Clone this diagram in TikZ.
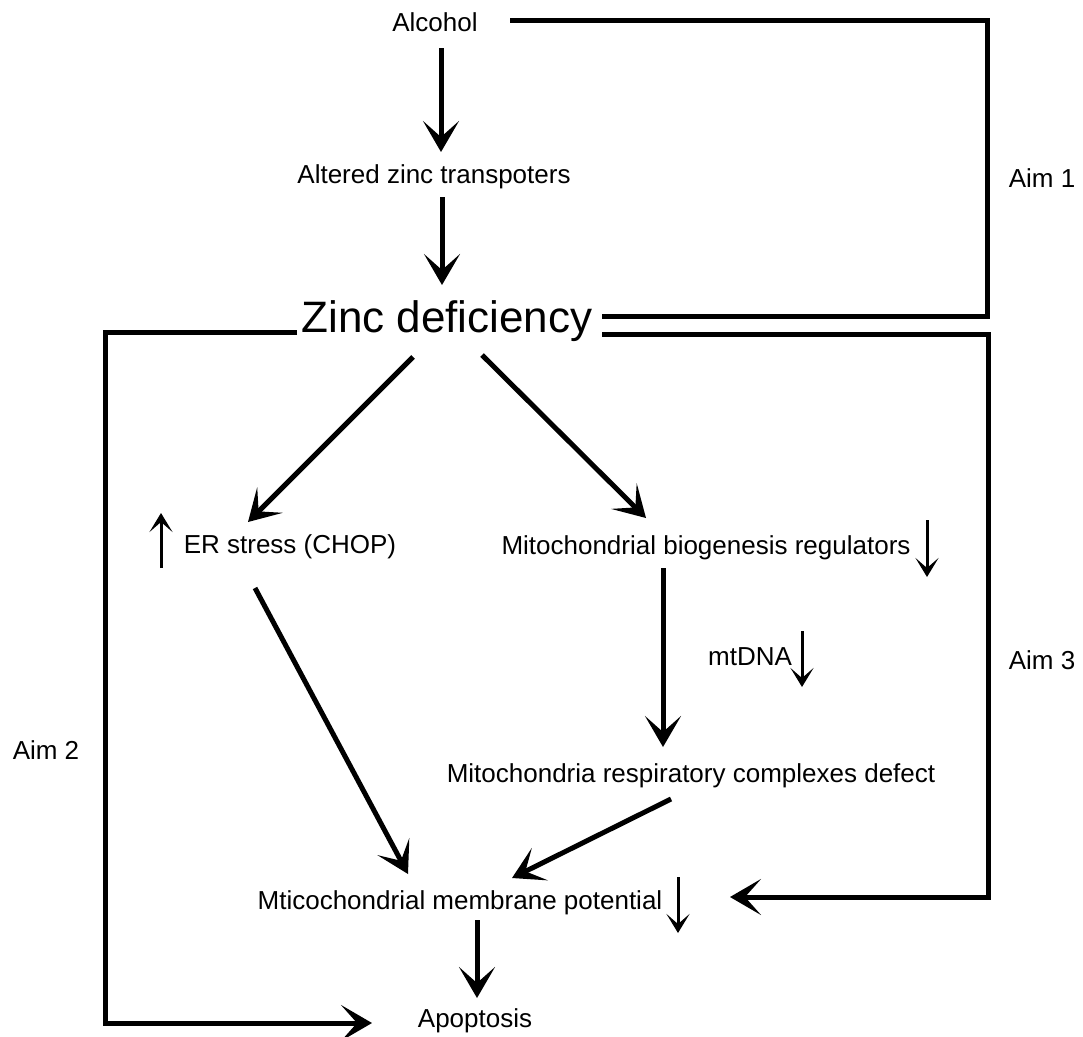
\documentclass[tikz,border=0pt]{standalone}
\usepackage{fontspec}
\setmainfont{Liberation Sans}
\usetikzlibrary{arrows.meta}

\begin{document}
\begin{tikzpicture}[x=1pt,y=-1pt,line width=5pt,
    >={Stealth[length=31pt,width=36pt,inset=16pt]},
    label node/.style={anchor=base,inner sep=0pt,font=\fontsize{26}{30}\selectfont},
    big node/.style={anchor=base,inner sep=0pt,font=\fontsize{44}{50}\selectfont},
    small arrow/.style={line width=3pt,-{Stealth[length=19pt,width=23pt,inset=10pt]}}]

\useasboundingbox (0,0) rectangle (1083,1036);

% nodes
\node[label node] (alcohol) at (435,31)  {Alcohol};
\node[label node] (transp)  at (434,183) {Altered zinc transpoters};
\node[big node]   (zinc)    at (447,332) {Zinc deficiency};
\node[label node] (er)      at (290,553) {ER stress (CHOP)};
\node[label node] (bio)     at (706,554) {Mitochondrial biogenesis regulators};
\node[label node] (mtdna)   at (750,665) {mtDNA};
\node[label node] (resp)    at (691,782) {Mitochondria respiratory complexes defect};
\node[label node] (mmp)     at (460,909) {Mticochondrial membrane potential};
\node[label node] (apop)    at (475,1027) {Apoptosis};
\node[label node] (aim1)    at (1042,187) {Aim 1};
\node[label node] (aim2)    at (46,759)   {Aim 2};
\node[label node] (aim3)    at (1042,669) {Aim 3};

% main arrows
\draw[->] ([shift={(6,17)}]alcohol.base) -- ([shift={(7,-31)}]transp.base);
\draw[->] ([shift={(8,14)}]transp.base) -- ([shift={(-5,-47)}]zinc.base);
\draw[->] ([shift={(-34,25)}]zinc.base) -- ([shift={(-42,-31)}]er.base);
\draw[->] ([shift={(35,23)}]zinc.base) -- ([shift={(-60,-36)}]bio.base);
\draw[->] ([shift={(-43,14)}]bio.base) -- ([shift={(-28,-35)}]resp.base);
\draw[->] ([shift={(-35,35)}]er.base) -- ([shift={(-52,-35)}]mmp.base);
\draw[->] ([shift={(-20,17)}]resp.base) -- ([shift={(52,-31)}]mmp.base);
\draw[->] ([shift={(17,11)}]mmp.base) -- ([shift={(2,-29)}]apop.base);

% aims
\draw ([shift={(75,-11)}]alcohol.base) -- ++(477,0) |- ([shift={(155,-16)}]zinc.base);
\draw[->] ([shift={(155,2)}]zinc.base) -- ++(386,0) |- ([shift={(270,-12)}]mmp.base);
\draw[->] ([shift={(-150,0)}]zinc.base) -- ++(-192,0) |- ([shift={(-103,-4)}]apop.base);

% up and down marks
\draw[small arrow] ([shift={(-129,15)}]er.base) -- ([shift={(-129,-40)}]er.base);
\draw[small arrow] ([shift={(221,-34)}]bio.base) -- ([shift={(221,23)}]bio.base);
\draw[small arrow] ([shift={(52,-34)}]mtdna.base) -- ([shift={(52,22)}]mtdna.base);
\draw[small arrow] ([shift={(218,-32)}]mmp.base) -- ([shift={(218,24)}]mmp.base);
\end{tikzpicture}
\end{document}
